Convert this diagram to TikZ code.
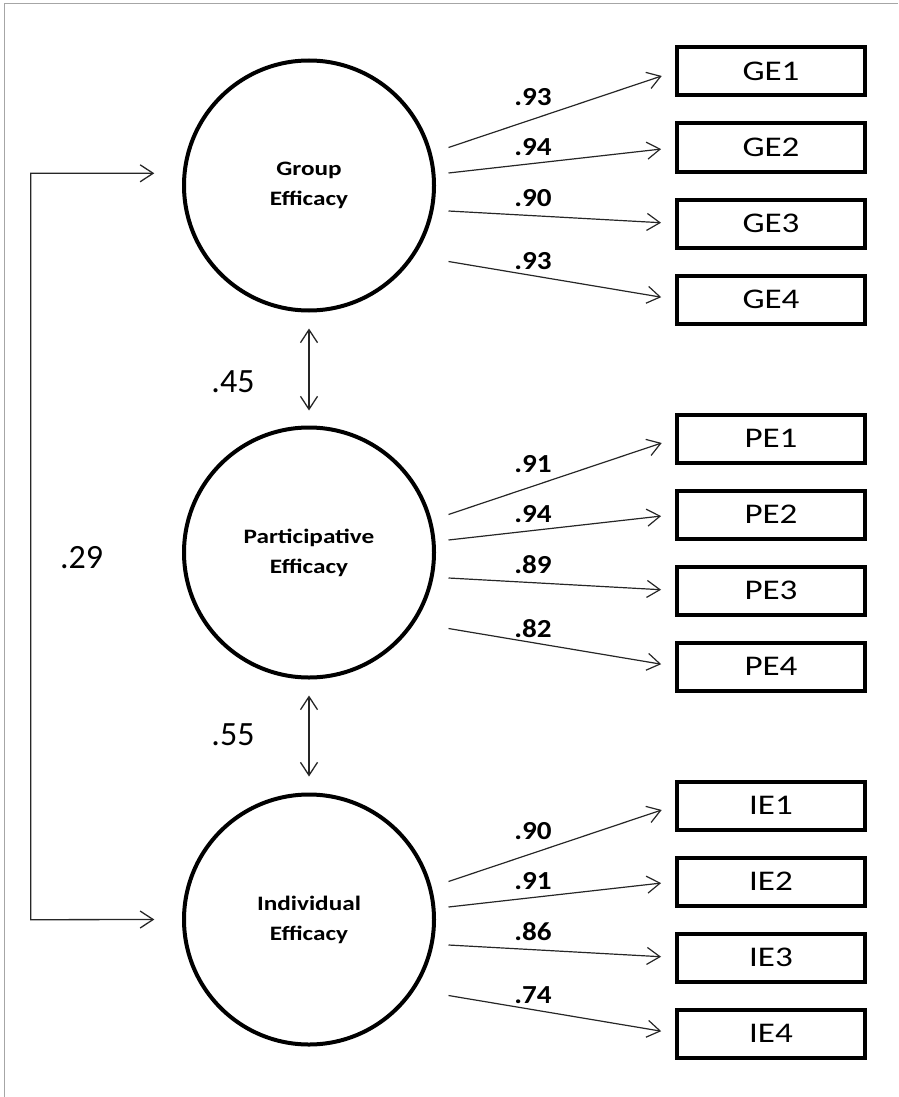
\documentclass[tikz,border=0pt]{standalone}
\usepackage{fontspec}
\usepackage{tikz}
\usetikzlibrary{calc, arrows.meta}
\newfontfamily\calfont{Carlito}[FakeStretch=1.23]
\newfontfamily\loadfont{Carlito}[FakeStretch=1.12]
\newfontfamily\corrfont{Carlito}

\begin{document}
\begin{tikzpicture}[x=1pt, y=-1pt,
    latent/.style={draw, circle, line width=4pt, minimum size=250pt, inner sep=0pt,
        align=center, font=\calfont\bfseries\fontsize{20.5}{30}\selectfont},
    indicator/.style={draw, rectangle, line width=4pt, minimum width=188pt,
        minimum height=48pt, inner sep=0pt, font=\calfont\fontsize{28.5}{30}\selectfont},
    barb/.style={{Straight Barb[length=13pt,width=17pt]}},
    load/.style={line width=1.2pt, black!85, -{Straight Barb[length=13pt,width=17pt]}, shorten >=14pt},
    loading/.style={inner sep=0pt, font=\loadfont\bfseries\fontsize{26}{26}\selectfont},
    corr/.style={line width=1.3pt, black!85, {Straight Barb[length=13pt,width=17pt]}-{Straight Barb[length=13pt,width=17pt]}},
    corrlabel/.style={inner sep=0pt, font=\corrfont\fontsize{34}{34}\selectfont},
    frame/.style={line width=1.5pt, gray!70}]

    % Define parameters
    \def\cx{309}   % x of the latent factors
    \def\gap{367}  % vertical distance between the factors

    \useasboundingbox (0,0) rectangle (898,1097);

    % Frame (top and left edge only)
    \draw[frame] (4.7,1097) -- (4.7,3.3) -- (898,3.3);

    % Latent factors
    \node[latent] (GF) at (\cx,185.5) {Group\\Efficacy};
    \node[latent] (PF) at (\cx,185.5+\gap) {Participative\\Efficacy};
    \node[latent] (IF) at (\cx,185.5+2*\gap) {Individual\\Efficacy};

    % Indicators, loadings and their labels
    \foreach \f/\pre/\la/\lb/\lc/\ld in {GF/GE/.93/.94/.90/.93, PF/PE/.91/.94/.89/.82, IF/IE/.90/.91/.86/.74} {
        \foreach \i/\sy/\ly/\val in {1/-38/-88/\la, 2/-12.5/-38/\lb, 3/25.5/12.5/\lc, 4/76/76/\ld} {
            \pgfmathsetmacro\by{-114+76*(\i-1)}
            \node[indicator] (\pre\i) at ($(\f)+(462,\by)$) {\pre\i};
            \coordinate (\pre s\i) at ($(\f)+(139.5,\sy)$);
            \draw[load] (\pre s\i) -- (\pre\i.west);
            \node[loading] (\pre l\i) at ($(\f)+(224,\ly)$) {\val};
        }
    }

    % Correlations between neighbouring factors
    \draw[corr, shorten <=16pt, shorten >=15pt] (GF.south) -- (PF.north);
    \draw[corr, shorten <=16pt, shorten >=16pt] (PF.south) -- (IF.north);
    \node[corrlabel] (r45) at (233,381.7) {.45};
    \node[corrlabel] (r55) at (233,735) {.55};

    % Correlation between group and individual efficacy
    \coordinate (GFin) at ($(GF.west)+(-27.7,-12.2)$);
    \coordinate (IFin) at ($(IF.west)+(-27.7,0)$);
    \coordinate (bt) at (30.7,173.3);
    \coordinate (bb) at (30.7,919.7);
    \draw[corr] (GFin) -- (bt) -- (bb) -- (IFin);
    \node[corrlabel] (r29) at (81.7,557.3) {.29};
\end{tikzpicture}
\end{document}
